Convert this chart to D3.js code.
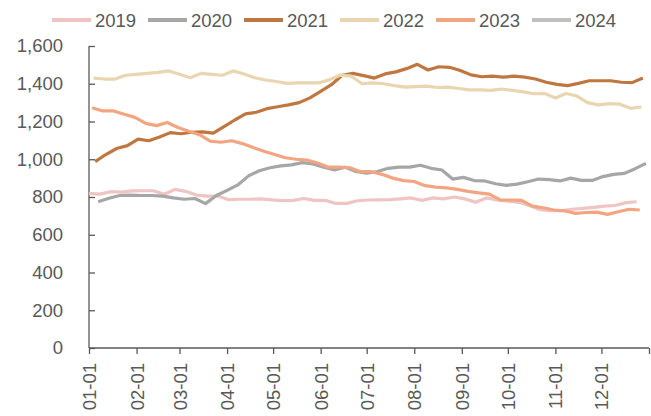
<!DOCTYPE html>
<html>
<head>
<meta charset="utf-8">
<script src="https://cdn.jsdelivr.net/npm/d3@7"></script>
<style>
  body { margin: 0; background: #fff; }
  text { font-family: "Liberation Sans", Arial, sans-serif; fill: #595959; }
  .axis path, .axis line { stroke: #595959; stroke-width: 1.3; }
</style>
</head>
<body>
<svg id="chart" width="651" height="416"></svg>
<script>
// series names, colours and first week date of each year
let years = ["2019", "2020", "2021", "2022", "2023", "2024"]
let colors = ["#efc5c4", "#a6a6a6", "#c0763f", "#e9d6b1", "#f3a581", "#bfbfbf"]
let startDates = ["01-01", "01-07", "01-05", "01-04", "01-03", "01-01"]

// weekly values
let v2019 = [819,815,828,826,832,833,833,815,840,830,810,805,805,786,
             788,788,790,785,781,782,792,782,782,766,766,780,
             784,785,786,790,795,782,795,790,800,790,772,795,785,
             778,772,755,733,728,728,735,740,745,752,755,770,775]
let v2020 = [775,793,808,810,808,808,805,795,788,792,765,808,835,
             864,912,939,955,965,970,982,975,958,943,958,935,926,
             935,952,958,958,968,952,943,895,904,887,885,870,862,
             868,881,895,892,885,900,888,888,908,920,925,950,978]
let v2021 = [987,1025,1057,1072,1107,1098,1118,1141,1135,1143,1145,1138,1173,
             1208,1240,1249,1268,1278,1288,1300,1325,1360,1395,1445,1455,1443,
             1430,1452,1463,1480,1503,1473,1490,1487,1470,1447,1437,1440,1435,
             1440,1435,1425,1408,1397,1390,1402,1416,1416,1416,1408,1406,1430]
let v2022 = [1430,1425,1425,1445,1450,1455,1460,1468,1450,1432,1455,1450,1445,
             1468,1452,1432,1420,1412,1402,1405,1405,1405,1422,1446,1440,1400,
             1405,1400,1390,1382,1385,1387,1380,1382,1375,1368,1368,1365,1372,
             1365,1357,1347,1348,1325,1348,1335,1300,1288,1295,1292,1270,1277]
let v2023 = [1273,1256,1256,1238,1222,1190,1178,1195,1168,1148,1130,1096,1090,
             1098,1083,1062,1042,1025,1008,1000,996,980,958,958,955,934,
             934,920,900,887,882,860,852,848,840,830,822,815,785,
             784,782,752,743,731,727,713,718,720,708,722,735,731]
let v2024 = []

let yTicks = [0, 200, 400, 600, 800, 1000, 1200, 1400, 1600]
let monthTicks = ["01-01","02-01","03-01","04-01","05-01","06-01",
                  "07-01","08-01","09-01","10-01","11-01","12-01"]

let values = [v2019, v2020, v2021, v2022, v2023, v2024]

let parse = d3.timeParse("%Y-%m-%d")
let toDate = s => parse("2023-" + s)

let svg = d3.select("#chart")
let mLeft = 89, mRight = 649, mTop = 46, mBottom = 348

let xScale = d3.scaleTime()
    .domain([toDate("01-01"), parse("2024-01-01")])
    .range([mLeft, mRight])
let yScale = d3.scaleLinear().domain([0, 1600]).range([mBottom, mTop])

// x axis
let tickDates = monthTicks.map(toDate).concat([parse("2024-01-01")])
let xAxis = svg.append("g").attr("class", "axis")
    .attr("transform", `translate(0,${mBottom})`)
    .call(d3.axisBottom(xScale).tickValues(tickDates).tickSize(6)
        .tickFormat((d, i) => i < monthTicks.length ? monthTicks[i] : ""))
xAxis.select(".domain").attr("d", `M${mLeft},0H${mRight}`)
xAxis.selectAll("text")
    .style("font-size", "18.5px")
    .attr("transform", "rotate(-90)")
    .attr("text-anchor", "end")
    .attr("x", -15).attr("y", 0).attr("dy", "0.35em")

// y axis, ticks pointing inside
let yAxis = svg.append("g").attr("class", "axis")
    .attr("transform", `translate(${mLeft},0)`)
    .call(d3.axisRight(yScale).tickValues(yTicks).tickSize(6)
        .tickFormat(d3.format(",")))
yAxis.select(".domain").attr("d", `M0,${mTop}V${mBottom}`)
yAxis.selectAll("text")
    .style("font-size", "18.5px")
    .attr("text-anchor", "end")
    .attr("x", -26)

// lines
let line = d3.line()
    .x(d => xScale(d.date))
    .y(d => yScale(d.value))

years.forEach(function (y, k) {
    let start = toDate(startDates[k])
    let pts = values[k].map((v, i) => ({date: d3.timeDay.offset(start, 7 * i), value: v}))
    if (pts.length == 0) return
    svg.append("path")
        .datum(pts)
        .attr("fill", "none")
        .attr("stroke", colors[k])
        .attr("stroke-width", 3.2)
        .attr("stroke-linejoin", "round")
        .attr("d", line)
})

// legend
years.forEach(function (y, k) {
    let g = svg.append("g").attr("transform", `translate(${52 + k * 96},20)`)
    g.append("line").attr("x1", 0).attr("x2", 39).attr("y1", 0).attr("y2", 0)
        .attr("stroke", colors[k]).attr("stroke-width", 4)
    g.append("text").attr("x", 43).attr("dy", "0.36em")
        .style("font-size", "18.5px").text(y)
})
</script>
</body>
</html>
